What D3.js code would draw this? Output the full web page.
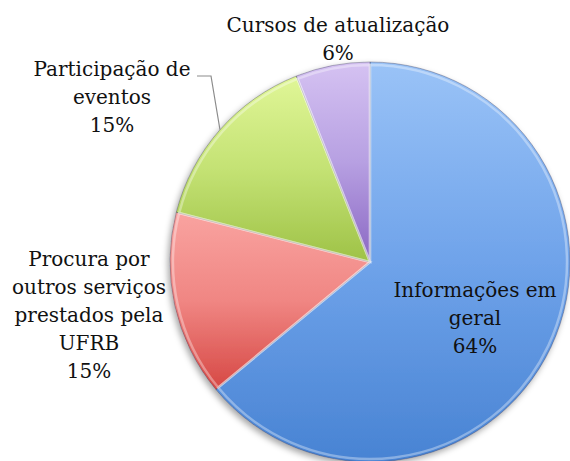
<!DOCTYPE html>
<html>
<head>
<meta charset="utf-8">
<script src="https://d3js.org/d3.v7.min.js"></script>
<style>
  body { margin: 0; background: #fff; }
  text { font-family: "DejaVu Serif", "Liberation Serif", serif; fill: #111; }
</style>
</head>
<body>
<div id="container"></div>
<script>
  // data
  var categories = ["Informações em geral", "Procura por outros serviços prestados pela UFRB", "Participação de eventos", "Cursos de atualização"];
  var values = [64, 15, 15, 6];
  // wrapped label lines as in the picture
  var labelLines = [
    ["Informações em", "geral"],
    ["Procura por", "outros serviços", "prestados pela", "UFRB"],
    ["Participação de", "eventos"],
    ["Cursos de atualização"]
  ];
  var topColors = ["#9ac3f7", "#f9a3a0", "#e0f697", "#d5c2f2"];
  var midColors = ["#6fa3ea", "#f08683", "#c4e274", "#b7a0e2"];
  var bottomColors = ["#4883d3", "#d64844", "#9ec247", "#8a67c3"];

  width = 570
  height = 461
  cx = 370
  cy = 262
  radius = 200

  var svg = d3.select("#container").append("svg")
    .attr("width", width)
    .attr("height", height);

  var defs = svg.append("defs");

  // soft shadow under the pie
  var shadow = defs.append("filter")
    .attr("id", "shadow")
    .attr("x", "-20%").attr("y", "-20%")
    .attr("width", "140%").attr("height", "140%");
  shadow.append("feDropShadow")
    .attr("dx", -2).attr("dy", 3)
    .attr("stdDeviation", 3)
    .attr("flood-color", "#000")
    .attr("flood-opacity", 0.35);

  // one vertical gradient per slice
  values.forEach(function(v, i) {
    var g = defs.append("linearGradient")
      .attr("id", "grad" + i)
      .attr("x1", 0).attr("y1", 0)
      .attr("x2", 0).attr("y2", 1);
    g.append("stop").attr("offset", "0%").attr("stop-color", topColors[i]);
    g.append("stop").attr("offset", "50%").attr("stop-color", midColors[i]);
    g.append("stop").attr("offset", "100%").attr("stop-color", bottomColors[i]);
  });

  var pie = d3.pie().sort(null).value(function(d) { return d; });
  var arcs = pie(values);

  var arc = d3.arc().innerRadius(0).outerRadius(radius);
  var innerArc = d3.arc().innerRadius(0).outerRadius(radius - 3);

  var pieG = svg.append("g")
    .attr("transform", "translate(" + cx + "," + cy + ")");

  var slices = pieG.append("g").attr("filter", "url(#shadow)");

  slices.selectAll("path.slice")
    .data(arcs)
    .enter().append("path")
    .attr("class", "slice")
    .attr("d", arc)
    .attr("fill", function(d, i) { return "url(#grad" + i + ")"; })
    .attr("stroke", "rgba(50,50,80,0.35)")
    .attr("stroke-width", 1);

  // bevel highlight just inside each slice
  pieG.selectAll("path.bevel")
    .data(arcs)
    .enter().append("path")
    .attr("class", "bevel")
    .attr("d", innerArc)
    .attr("fill", "none")
    .attr("stroke", "rgba(255,255,255,0.35)")
    .attr("stroke-width", 2.5);

  // labels
  var fontSize = 20;
  var lineH = 28;
  var labelPos = [
    [475, 297],
    [89, 266],
    [112, 76],
    [338, 32]
  ];

  arcs.forEach(function(d, i) {
    var lines = labelLines[i].concat([Math.round(values[i]) + "%"]);
    var t = svg.append("text")
      .attr("text-anchor", "middle")
      .style("font-size", fontSize + "px");
    lines.forEach(function(l, j) {
      t.append("tspan")
        .attr("x", labelPos[i][0])
        .attr("y", labelPos[i][1] + j * lineH)
        .text(l);
    });
  });

  // leader line for "Participação de eventos"
  var mid = (arcs[2].startAngle + arcs[2].endAngle) / 2;
  var ex = cx + radius * Math.sin(mid);
  var ey = cy - radius * Math.cos(mid);
  svg.append("polyline")
    .attr("points", [[197, 76], [211, 76], [ex, ey]].map(function(p) { return p.join(","); }).join(" "))
    .attr("fill", "none")
    .attr("stroke", "#8c8c8c")
    .attr("stroke-width", 1.2);
</script>
</body>
</html>
